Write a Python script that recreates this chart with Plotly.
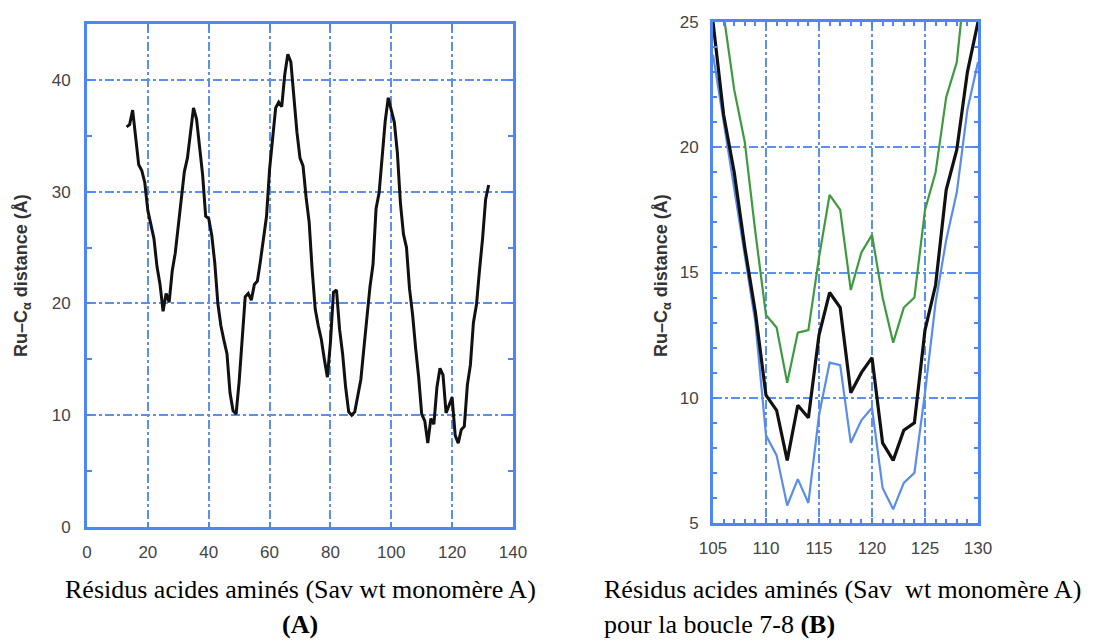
import plotly.graph_objects as go

# residues of Sav wt monomer A
residues_a = list(range(13, 133))
dist_a = [35.8, 36.0, 37.3, 34.7, 32.4, 31.9, 30.8, 28.3, 27.0, 25.8,
          23.3, 21.7, 19.3, 20.9, 20.1, 22.9, 24.5, 27.0, 29.5, 31.8,
          33.0, 35.5, 37.5, 36.5, 33.8, 31.5, 27.8, 27.6, 26.1, 23.6,
          20.0, 18.0, 16.7, 15.5, 12.0, 10.4, 10.1, 13.0, 16.8, 20.6,
          20.9, 20.3, 21.7, 22.0, 23.8, 26.0, 27.8, 32.0, 34.8, 37.5,
          38.0, 37.6, 40.5, 42.3, 41.6, 38.5, 35.3, 33.0, 32.3, 29.5,
          27.3, 23.0, 19.5, 18.0, 16.8, 15.0, 13.4, 16.5, 21.0, 21.2,
          17.7, 15.5, 12.5, 10.3, 10.0, 10.3, 11.7, 13.2, 16.0, 18.8,
          21.5, 23.5, 28.5, 29.9, 33.0, 36.3, 38.4, 37.2, 36.2, 33.5,
          29.0, 26.2, 25.0, 21.3, 19.0, 16.0, 13.4, 10.1, 9.5, 7.5,
          9.7, 9.2, 12.5, 14.2, 13.6, 10.2, 11.0, 11.6, 8.2, 7.5,
          8.7, 9.0, 12.7, 14.5, 18.3, 19.9, 23.0, 25.8, 29.3, 30.6]

# loop 7-8 zoom
residues_b = list(range(105, 131))
dist_black = [25.0, 21.3, 19.0, 16.0, 13.4, 10.1, 9.5, 7.5, 9.7, 9.2,
              12.5, 14.2, 13.6, 10.2, 11.0, 11.6, 8.2, 7.5, 8.7, 9.0,
              12.7, 14.5, 18.3, 19.9, 23.0, 25.0]
dist_green = [28.0, 25.3, 22.3, 20.2, 16.6, 13.3, 12.8, 10.6, 12.6, 12.7,
              15.6, 18.1, 17.5, 14.3, 15.8, 16.5, 14.0, 12.2, 13.6, 14.0,
              17.5, 19.0, 22.0, 23.4, 27.5, 30.0]
dist_blue = [23.7, 21.0, 18.3, 15.6, 13.0, 8.5, 7.7, 5.7, 6.75, 5.8,
             9.3, 11.4, 11.3, 8.2, 9.1, 9.6, 6.4, 5.55, 6.6, 7.0,
             10.2, 13.8, 16.3, 18.2, 21.5, 23.4]

W, H = 1096, 641
frame_blue = "#4f86f7"
grid_blue = "#5b8ff2"
tick_font = dict(family="Liberation Sans, Arial", size=17, color="#444")
title_font = dict(family="Liberation Sans, Arial", size=18, color="#333")
ytitle = "<b>Ru–C<sub>α</sub> distance (Å)</b>"

fig = go.Figure()
fig.add_trace(go.Scatter(x=residues_a, y=dist_a, mode="lines",
                         line=dict(color="#111", width=3), xaxis="x", yaxis="y"))
fig.add_trace(go.Scatter(x=residues_b, y=dist_blue, mode="lines",
                         line=dict(color="#5a8de8", width=2.2), xaxis="x2", yaxis="y2"))
fig.add_trace(go.Scatter(x=residues_b, y=dist_green, mode="lines",
                         line=dict(color="#3e9a3e", width=2.2), xaxis="x2", yaxis="y2"))
fig.add_trace(go.Scatter(x=residues_b, y=dist_black, mode="lines",
                         line=dict(color="#111", width=3.2), xaxis="x2", yaxis="y2"))


def axis_style(**kw):
    d = dict(showline=True, linecolor=frame_blue, linewidth=3, mirror="ticks",
             ticks="inside", ticklen=5, tickwidth=2, tickcolor=frame_blue,
             showgrid=True, gridcolor=grid_blue, gridwidth=1.5, griddash="dashdot",
             zeroline=False, tickfont=tick_font, automargin=False)
    d.update(kw)
    return d


fig.update_layout(
    width=W, height=H,
    margin=dict(l=0, r=0, t=0, b=0),
    paper_bgcolor="white", plot_bgcolor="white",
    showlegend=False,
    xaxis=axis_style(domain=[87 / W, 513 / W], range=[0, 140], dtick=20,
                     ticklabelstandoff=8, anchor="y"),
    yaxis=axis_style(domain=[1 - 527 / H, 1 - 24 / H], range=[0, 45], dtick=10,
                     minor=dict(dtick=5, ticks="inside", ticklen=5, tickcolor=frame_blue, showgrid=False),
                     ticklabelstandoff=10, anchor="x"),
    xaxis2=axis_style(domain=[713 / W, 978 / W], range=[105, 130], dtick=5,
                      minor=dict(dtick=1, ticks="inside", ticklen=4, tickcolor=frame_blue, showgrid=False),
                      ticklabelstandoff=8, anchor="y2"),
    yaxis2=axis_style(domain=[1 - 523 / H, 1 - 22 / H], range=[5, 25], dtick=5,
                      minor=dict(dtick=1, ticks="inside", ticklen=4, tickcolor=frame_blue, showgrid=False),
                      ticklabelstandoff=8, anchor="x2"),
)

# y axis titles
for xpix in (22, 662):
    fig.add_annotation(xref="paper", yref="paper", x=xpix / W, y=1 - 276 / H,
                       text=ytitle, showarrow=False, textangle=-90,
                       xanchor="center", yanchor="middle", font=title_font)

cap_font = dict(family="Liberation Serif, Times New Roman", size=26, color="black")
fig.add_annotation(xref="paper", yref="paper", x=300 / W, y=1 - 589 / H,
                   text="Résidus acides aminés (Sav wt monomère A)", showarrow=False,
                   xanchor="center", yanchor="middle", font=cap_font)
fig.add_annotation(xref="paper", yref="paper", x=300 / W, y=1 - 624 / H,
                   text="<b>(A)</b>", showarrow=False,
                   xanchor="center", yanchor="middle", font=cap_font)
fig.add_annotation(xref="paper", yref="paper", x=602 / W, y=1 - 589 / H,
                   text="Résidus acides aminés (Sav\u00a0 wt monomère A)", showarrow=False,
                   xanchor="left", yanchor="middle", font=cap_font)
fig.add_annotation(xref="paper", yref="paper", x=602 / W, y=1 - 624 / H,
                   text="pour la boucle 7-8 <b>(B)</b>", showarrow=False,
                   xanchor="left", yanchor="middle", font=cap_font)

# drop the default page margin so the figure sits at the window's corner
fig.write_html("out.html", config={"displayModeBar": False},
               post_script="document.body.style.margin='0px';")
